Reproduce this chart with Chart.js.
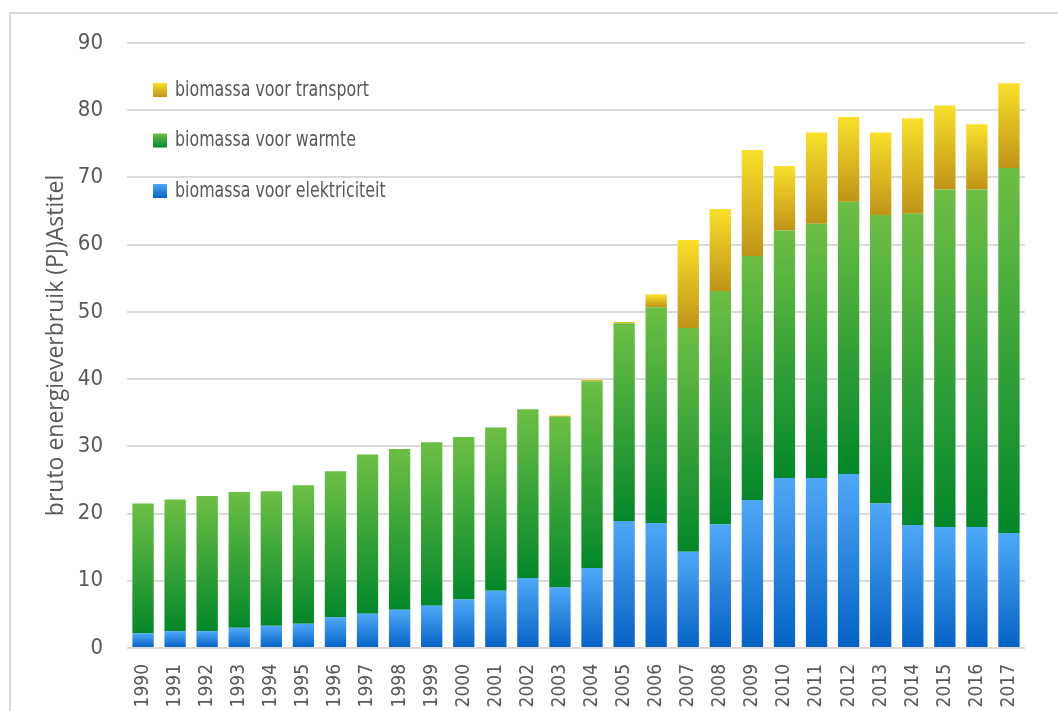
<!DOCTYPE html>
<html>
<head>
<meta charset="utf-8">
<script src="https://cdn.jsdelivr.net/npm/chart.js@4.4.1/dist/chart.umd.min.js"></script>
<style>
  html, body { margin: 0; padding: 0; background: #fff; overflow: hidden; }
  #wrap { width: 1058px; height: 711px; position: relative; }
</style>
</head>
<body>
<div id="wrap"><canvas id="biomassaChart" width="1058" height="711"></canvas></div>
<script>
const years = ['1990', '1991', '1992', '1993', '1994', '1995', '1996', '1997', '1998', '1999',
  '2000', '2001', '2002', '2003', '2004', '2005', '2006', '2007', '2008', '2009',
  '2010', '2011', '2012', '2013', '2014', '2015', '2016', '2017']
const elektriciteit = [2.2, 2.5, 2.5, 3.0, 3.3, 3.6, 4.6, 5.1, 5.7, 6.3,
  7.2, 8.5, 10.4, 9.0, 11.9, 18.9, 18.6, 14.3, 18.4, 22.0,
  25.3, 25.3, 25.9, 21.5, 18.3, 18.0, 18.0, 17.1]
const warmte = [19.3, 19.6, 20.1, 20.2, 20.0, 20.6, 21.7, 23.7, 23.9, 24.3,
  24.2, 24.3, 25.1, 25.4, 27.8, 29.4, 32.1, 33.3, 34.7, 36.3,
  36.8, 37.8, 40.5, 42.9, 46.3, 50.2, 50.2, 54.3]
const transport = [0, 0, 0, 0, 0, 0, 0, 0, 0, 0,
  0, 0, 0, 0.2, 0.2, 0.2, 1.9, 13.1, 12.2, 15.8,
  9.6, 13.6, 12.6, 12.3, 14.2, 12.5, 9.7, 12.6]
const seriesNames = ['biomassa voor elektriciteit', 'biomassa voor warmte', 'biomassa voor transport']

const stack = [elektriciteit, warmte, transport]
// [top colour, bottom colour]
const shades = [
  ['#4fa8f7', '#0562c4'],
  ['#6dbf46', '#04872a'],
  ['#f9e02b', '#bf9417']
]

const textFont = "'Liberation Sans Narrow', 'DejaVu Sans Condensed', 'Roboto', sans-serif"
const grey = '#595959'

function segmentFill(d) {
  return ctx => {
    const y = ctx.chart.scales.y
    const i = ctx.dataIndex
    if (!y || i === undefined) return shades[d][1]
    let base = 0
    for (let k = 0; k < d; k++) base += stack[k][i]
    const y0 = y.getPixelForValue(base)
    const y1 = y.getPixelForValue(base + stack[d][i])
    if (!isFinite(y0) || !isFinite(y1) || y0 === y1) return shades[d][1]
    const g = ctx.chart.ctx.createLinearGradient(0, y0, 0, y1)
    g.addColorStop(0, shades[d][1])
    g.addColorStop(1, shades[d][0])
    return g
  }
}

const frameAndLegend = {
  id: 'frameAndLegend',
  beforeDraw(chart) {
    const c = chart.ctx
    c.save()
    c.strokeStyle = '#d9d9d9'
    c.lineWidth = 2
    c.strokeRect(10, 13, 1200, 900)
    c.restore()
  },
  afterDraw(chart) {
    const c = chart.ctx
    c.save()
    c.font = '22px ' + textFont
    c.textBaseline = 'middle'
    for (let n = 0; n < 3; n++) {
      const d = 2 - n
      const cy = 90 + n * 50.5
      const g = c.createLinearGradient(0, cy - 7, 0, cy + 7)
      g.addColorStop(0, shades[d][0])
      g.addColorStop(1, shades[d][1])
      c.fillStyle = g
      c.fillRect(153, cy - 7, 14, 14)
      // squeeze the label to look like the narrow original font
      c.save()
      c.translate(175, cy)
      c.scale(0.8, 1)
      c.fillStyle = grey
      c.fillText(seriesNames[d], 0, 0)
      c.restore()
    }
    c.restore()
  }
}

new Chart(document.getElementById('biomassaChart'), {
  type: 'bar',
  data: {
    labels: years,
    datasets: stack.map((values, d) => ({
      label: seriesNames[d],
      data: values,
      backgroundColor: segmentFill(d),
      borderWidth: 0,
      categoryPercentage: 1,
      barPercentage: 0.665
    }))
  },
  options: {
    responsive: false,
    animation: false,
    layout: { padding: { top: 43, right: 33, bottom: 0, left: 0 } },
    plugins: {
      legend: { display: false },
      tooltip: { enabled: false }
    },
    scales: {
      x: {
        stacked: true,
        grid: { display: false },
        border: { display: false },
        ticks: {
          color: grey,
          font: { family: textFont, size: 19 },
          minRotation: 90,
          maxRotation: 90,
          padding: 8
        },
        afterFit: s => { s.height = 63 }
      },
      y: {
        stacked: true,
        min: 0,
        max: 90,
        border: { display: false },
        grid: { color: '#d9d9d9', lineWidth: 2, drawTicks: false },
        ticks: {
          stepSize: 10,
          color: grey,
          font: { family: textFont, size: 22 },
          padding: 24
        },
        title: {
          display: true,
          text: 'bruto energieverbruik (PJ)Astitel',
          color: grey,
          font: { family: "'Open Sans', sans-serif", size: 23 },
          padding: { top: 43, bottom: 0 }
        },
        afterFit: s => { s.width = 127 }
      }
    }
  },
  plugins: [frameAndLegend]
})
</script>
</body>
</html>
